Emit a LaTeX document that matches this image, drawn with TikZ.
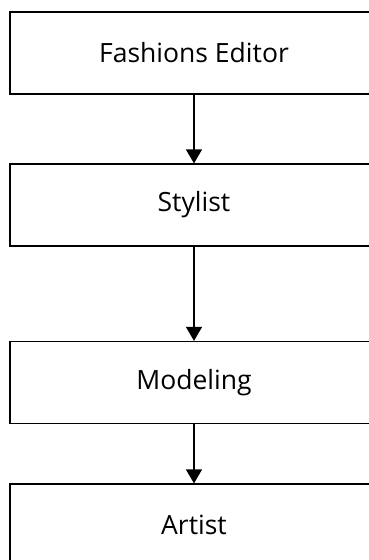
\documentclass[tikz,border=0pt]{standalone}
\usepackage{fontspec}
\setmainfont{Open Sans}
\usetikzlibrary{arrows.meta}
\tikzset{vertex/.style = {shape=rectangle,draw,line width=1.2pt,minimum width=368pt,minimum height=82pt,inner sep=0pt,font=\fontsize{26.5}{30}\selectfont}}
\tikzset{edge/.style = {line width=1.2pt,-{Triangle[width=16pt,length=14pt]}}}

\begin{document}
\begin{tikzpicture}[x=1pt,y=-1pt]
		\clip (0,0) rectangle (369,560);
		
		% vertices
		\node[vertex] (a) at (194,53) {Fashions Editor};
		\node[vertex] (b) at (194,205) {Stylist};
		\node[vertex] (c) at (194,382.5) {Modeling};
		\node[vertex] (d) at (194,525) {Artist};
		
		%edges
		\draw[edge] (a) to (b);
		\draw[edge] (b) to (c);
		\draw[edge] (c) to (d);
	\end{tikzpicture}
\end{document}
